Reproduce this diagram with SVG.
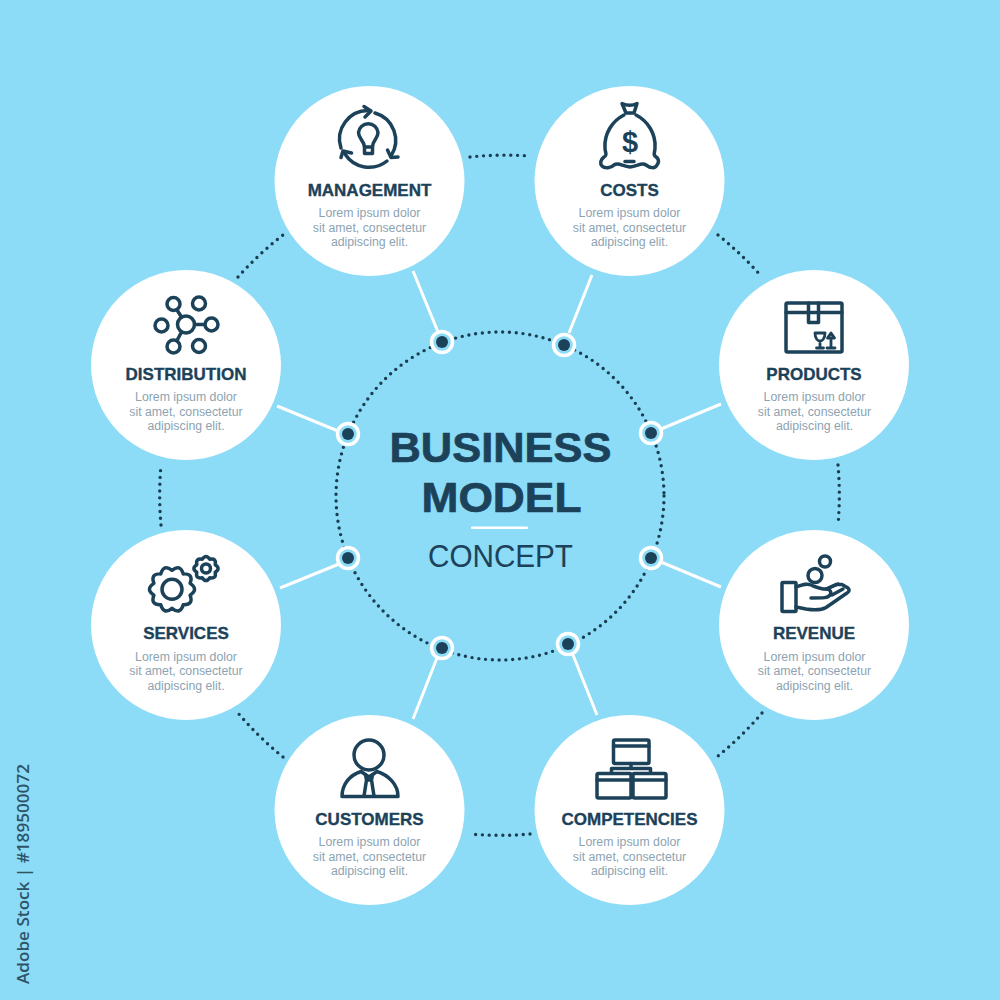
<svg xmlns="http://www.w3.org/2000/svg" width="1000" height="1000" viewBox="0 0 1000 1000">
<style>
.dots{fill:none;stroke:#1b3d52;stroke-width:3.400;stroke-linecap:round;stroke-dasharray:0 6.800}
.link{stroke:#fff;stroke-width:3;fill:none}
.ring{fill:#8cdbf7;stroke:#fff;stroke-width:3.500}
.core{fill:#1c4259}
.disc{fill:#fff}
.ic{fill:none;stroke:#1c4259;stroke-width:3.500;stroke-linecap:round;stroke-linejoin:round}
.t{font-family:"Liberation Sans",Arial,sans-serif;font-weight:700;font-size:17px;fill:#1c4259;stroke:#1c4259;stroke-width:.35;text-anchor:middle}
.b{font-family:"Liberation Sans",Arial,sans-serif;font-size:12.300px;fill:#8da3b2;text-anchor:middle}
.h{font-family:"Liberation Sans",Arial,sans-serif;font-weight:700;font-size:43px;fill:#1c4259;stroke:#1c4259;stroke-width:.7;text-anchor:middle}
</style>
<rect width="1000" height="1000" fill="#8cdbf7"/>
<g id="connectors">
<circle class="dots" cx="500" cy="496" r="164"/>
<path class="dots" d="M470 157A339 339 0 0 1 530 156"/>
<path class="dots" d="M718 235A339 339 0 0 1 762 277"/>
<path class="dots" d="M838 465A339 339 0 0 1 838 525"/>
<path class="dots" d="M762 713A339 339 0 0 1 718 756"/>
<path class="dots" d="M530 834A339 339 0 0 1 470 834"/>
<path class="dots" d="M283 757A339 339 0 0 1 238 713"/>
<path class="dots" d="M161 525A339 339 0 0 1 161 465"/>
<path class="dots" d="M238 277A339 339 0 0 1 283 235"/>
<path class="link" d="M413 271L438 332M592 275L569 333M721 404L661 429M721 587L661 562M597 715L573 655M413 719L437 658M280 588L339 564M277 406L338 431"/>
<g>
<circle class="ring" cx="442" cy="342" r="10.500"/><circle class="core" cx="442" cy="342" r="6"/>
<circle class="ring" cx="564" cy="345" r="10.500"/><circle class="core" cx="564" cy="345" r="6"/>
<circle class="ring" cx="651" cy="433" r="10.500"/><circle class="core" cx="651" cy="433" r="6"/>
<circle class="ring" cx="651" cy="558" r="10.500"/><circle class="core" cx="651" cy="558" r="6"/>
<circle class="ring" cx="568" cy="644" r="10.500"/><circle class="core" cx="568" cy="644" r="6"/>
<circle class="ring" cx="442" cy="648" r="10.500"/><circle class="core" cx="442" cy="648" r="6"/>
<circle class="ring" cx="348" cy="558" r="10.500"/><circle class="core" cx="348" cy="558" r="6"/>
<circle class="ring" cx="348" cy="434" r="10.500"/><circle class="core" cx="348" cy="434" r="6"/>
</g>
</g>
<g id="center">
<text class="h" x="500.500" y="461.700" textLength="222" lengthAdjust="spacingAndGlyphs">BUSINESS</text>
<text class="h" x="501.500" y="511.700" textLength="160" lengthAdjust="spacingAndGlyphs">MODEL</text>
<rect x="471" y="526.500" width="57" height="2.500" rx="1" fill="#fff"/>
<text x="500.500" y="567" font-family="'Liberation Sans',Arial,sans-serif" font-size="31" fill="#1c4259" text-anchor="middle" textLength="145" lengthAdjust="spacingAndGlyphs">CONCEPT</text>
</g>
<g id="management">
<circle class="disc" cx="369.500" cy="181" r="95"/>
<g class="ic">
<path d="M341 148A28.500 28.500 0 0 1 369 110.500"/>
<path d="M364 106.500L371 111L365 117"/>
<path d="M375 113A28.500 28.500 0 0 1 391 156"/>
<path d="M387.500 150L391 157.500L398 157"/>
<path d="M387 161A28.500 28.500 0 0 1 345 154"/>
<path d="M341 157.500L343 151L351.500 153"/>
<path d="M364.500 147C364 140 358.500 139 358.500 132.500A9.800 9.800 0 0 1 378 132.500C378 139 372.500 140 372.500 147Z"/>
<path d="M364.500 147V153.500H372.500V147"/>
</g>
<text class="t" x="369.500" y="196">MANAGEMENT</text>
<text class="b" x="369.500" y="217">Lorem ipsum dolor</text>
<text class="b" x="369.500" y="231.500">sit amet, consectetur</text>
<text class="b" x="369.500" y="246">adipiscing elit.</text>
</g>
<g id="costs">
<circle class="disc" cx="629.500" cy="181" r="95"/>
<g class="ic">
<path d="M622 103.500Q630 107 637 103.500L634 113H626Z"/>
<path d="M624 115C612 121 604 134 605 148C605 153 608 155 604 157C600 160 600 164 602 166C605 169 611 168 614 165C618 162 622 166 630 167C638 166 642 162 646 165C650 168 655 169 657 165C660 161 658 158 655 156C653 154 655 152 655 148C656 134 648 121 636 115"/>
<path d="M625 161.500H634"/>
</g>
<text x="630" y="152" font-family="'Liberation Sans',Arial,sans-serif" font-weight="700" font-size="29" fill="#1c4259" text-anchor="middle">$</text>
<text class="t" x="629.500" y="196">COSTS</text>
<text class="b" x="629.500" y="217">Lorem ipsum dolor</text>
<text class="b" x="629.500" y="231.500">sit amet, consectetur</text>
<text class="b" x="629.500" y="246">adipiscing elit.</text>
</g>
<g id="products">
<circle class="disc" cx="814" cy="365" r="95"/>
<g class="ic">
<rect x="786" y="303" width="56" height="49" rx="1.500"/>
<path d="M786 312.500H842M808.500 303V322.500H818.500V303"/>
<path d="M815 333H825C825 339 822 341 820 341C818 341 815 339 815 333ZM820 341V347M816.500 348H823.500" stroke-width="2.800"/>
<path d="M831 333L827.500 338H834.500ZM831 338V347M827 348H835" stroke-width="2.800"/>
</g>
<text class="t" x="814" y="380">PRODUCTS</text>
<text class="b" x="814.500" y="401">Lorem ipsum dolor</text>
<text class="b" x="814.500" y="415.500">sit amet, consectetur</text>
<text class="b" x="814.500" y="430">adipiscing elit.</text>
</g>
<g id="distribution">
<circle class="disc" cx="186" cy="365" r="95"/>
<g class="ic">
<circle cx="186" cy="324.500" r="8.500"/>
<circle cx="173.500" cy="304" r="6.500"/>
<circle cx="199" cy="303.500" r="6.500"/>
<circle cx="161.500" cy="325.500" r="6.500"/>
<circle cx="211.500" cy="324.500" r="6.500"/>
<circle cx="173.500" cy="346.500" r="6.500"/>
<circle cx="199" cy="346" r="6.500"/>
<path d="M177 310L181.500 317M194.500 324.500H205M181.500 332L177 340.500"/>
</g>
<text class="t" x="186" y="380">DISTRIBUTION</text>
<text class="b" x="186" y="401">Lorem ipsum dolor</text>
<text class="b" x="186" y="415.500">sit amet, consectetur</text>
<text class="b" x="186" y="430">adipiscing elit.</text>
</g>
<g id="services">
<circle class="disc" cx="186" cy="625" r="95"/>
<g class="ic">
<g transform="translate(172 589.300)">
<path d="M18.100 -5.900Q27 0 18.100 5.900Q21.800 15.900 11.200 15.400Q8.300 25.700 0 19Q-8.300 25.700 -11.200 15.400Q-21.800 15.900 -18.100 5.900Q-27 0 -18.100 -5.900Q-21.800 -15.900 -11.200 -15.400Q-8.300 -25.700 0 -19Q8.300 -25.700 11.200 -15.400Q21.800 -15.900 18.100 -5.900Z"/>
<circle r="10"/>
</g>
<g transform="translate(206 568.500)">
<path d="M9.200 -3.800Q15 0 9.200 3.800Q10.600 10.600 3.800 9.200Q0 15 -3.800 9.200Q-10.600 10.600 -9.200 3.800Q-15 0 -9.200 -3.800Q-10.600 -10.600 -3.800 -9.200Q0 -15 3.800 -9.200Q10.600 -10.600 9.200 -3.800Z"/>
<circle r="4.500"/>
</g>
</g>
<text class="t" x="186" y="639">SERVICES</text>
<text class="b" x="186" y="660.500">Lorem ipsum dolor</text>
<text class="b" x="186" y="675">sit amet, consectetur</text>
<text class="b" x="186" y="689.500">adipiscing elit.</text>
</g>
<g id="revenue">
<circle class="disc" cx="814" cy="625" r="95"/>
<g class="ic">
<circle cx="825" cy="561.500" r="5.500"/>
<circle cx="815" cy="575.500" r="7"/>
<rect x="782" y="582.500" width="14" height="29" rx="1"/>
<path d="M796 587C802 585 806 583 811 585C816 587 820 589 826 589C830 589 832 592 830 595C828 598 824 598 811 598"/>
<path d="M826 589L836 584.500L842 584.500L848 588C850 590 849 592 847 593L826 607.500C820 611 812 610 806 609L796 607"/>
<path d="M829 588L838 584M832 595L843 589"/>
</g>
<text class="t" x="814" y="639">REVENUE</text>
<text class="b" x="814.500" y="660.500">Lorem ipsum dolor</text>
<text class="b" x="814.500" y="675">sit amet, consectetur</text>
<text class="b" x="814.500" y="689.500">adipiscing elit.</text>
</g>
<g id="customers">
<circle class="disc" cx="369.500" cy="810" r="95"/>
<g class="ic">
<circle cx="369" cy="755" r="15"/>
<path d="M342 796.500C342 784 350 775 361 771.500L369 777L377 771.500C388 775 398 784 398 796.500Z"/>
<path d="M365.500 775L366.500 780L364 796M372.500 775L371.500 780L374 796M366.500 780H371.500"/>
</g>
<text class="t" x="369.500" y="824.500">CUSTOMERS</text>
<text class="b" x="369.500" y="846">Lorem ipsum dolor</text>
<text class="b" x="369.500" y="860.500">sit amet, consectetur</text>
<text class="b" x="369.500" y="875">adipiscing elit.</text>
</g>
<g id="competencies">
<circle class="disc" cx="629.500" cy="810" r="95"/>
<g class="ic">
<rect x="613.500" y="740" width="35.500" height="23.500" rx="1.500"/>
<path d="M613.500 746H649M631 763.500V768.500M611.500 773V768.500H650.500V773"/>
<rect x="597" y="773.500" width="34" height="24.500" rx="1.500"/>
<path d="M597 780H631"/>
<rect x="633" y="773.500" width="33" height="24.500" rx="1.500"/>
<path d="M633 780H666"/>
</g>
<text class="t" x="629.500" y="824.500">COMPETENCIES</text>
<text class="b" x="629.500" y="846">Lorem ipsum dolor</text>
<text class="b" x="629.500" y="860.500">sit amet, consectetur</text>
<text class="b" x="629.500" y="875">adipiscing elit.</text>
</g>
<text transform="translate(29 984) rotate(-90)" font-family="'Open Sans','DejaVu Sans',sans-serif" font-weight="600" font-size="16.500" fill="#2f5468" textLength="220" lengthAdjust="spacingAndGlyphs">Adobe Stock | #189500072</text>
</svg>
